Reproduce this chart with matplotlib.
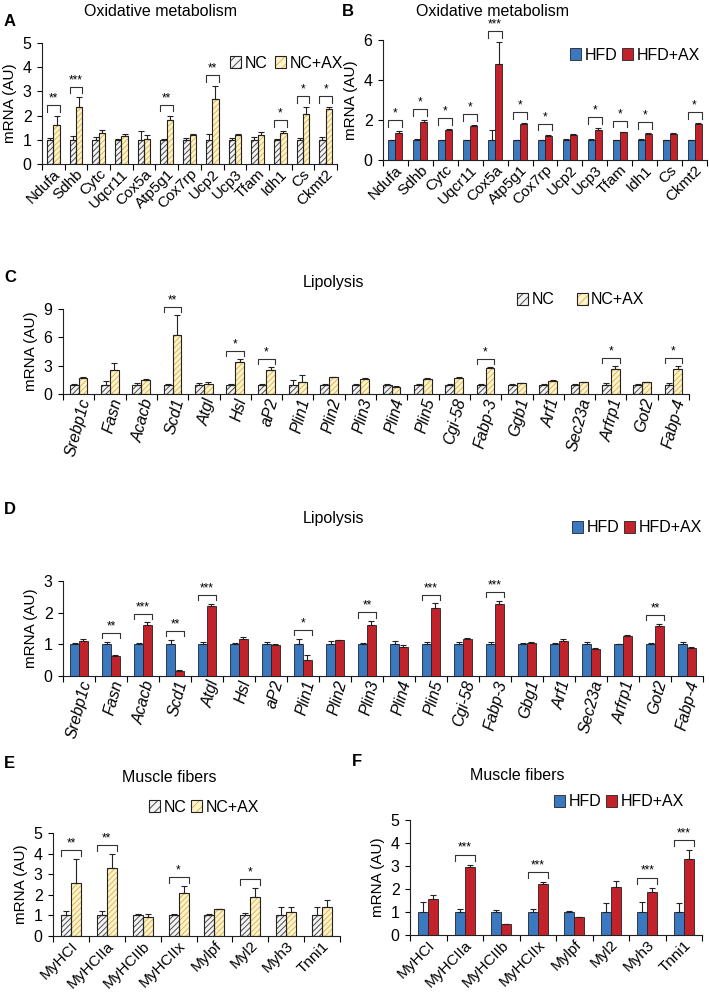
import numpy as np
import matplotlib
matplotlib.use('Agg')
import matplotlib.pyplot as plt
from matplotlib.patches import Patch
from matplotlib.legend_handler import HandlerTuple

plt.rcParams['font.family'] = ['Liberation Sans', 'DejaVu Sans']
plt.rcParams['hatch.linewidth'] = 0.7

# ---------------- data ----------------
ox_genes = ['Ndufa', 'Sdhb', 'Cytc', 'Uqcr11', 'Cox5a', 'Atp5g1', 'Cox7rp',
            'Ucp2', 'Ucp3', 'Tfam', 'Idh1', 'Cs', 'Ckmt2']
# panel A
a_nc = [1, 1, 1, 1, 1, 1, 1, 1, 1, 1, 1, 1, 1]
a_nc_err = [0.08, 0.15, 0.1, 0.05, 0.35, 0.05, 0.08, 0.25, 0.08, 0.1, 0.05, 0.08, 0.1]
a_ax = [1.62, 2.35, 1.3, 1.17, 1.02, 1.83, 1.18, 2.67, 1.18, 1.18, 1.3, 2.08, 2.28]
a_ax_err = [0.35, 0.4, 0.12, 0.08, 0.18, 0.17, 0.08, 0.55, 0.08, 0.13, 0.06, 0.28, 0.08]
a_sig = ['**', '***', '', '', '', '**', '', '**', '', '', '*', '*', '*']
# panel B
b_hfd = [1, 1, 1, 1, 1, 1, 1, 1, 1, 1, 1, 1, 1]
b_hfd_err = [0.02, 0.03, 0.02, 0.02, 0.5, 0.02, 0.02, 0.03, 0.03, 0.02, 0.04, 0.02, 0.02]
b_ax = [1.35, 1.9, 1.5, 1.7, 4.8, 1.78, 1.22, 1.25, 1.52, 1.38, 1.3, 1.32, 1.82]
b_ax_err = [0.1, 0.1, 0.06, 0.06, 1.1, 0.08, 0.05, 0.05, 0.08, 0.04, 0.04, 0.02, 0.03]
b_sig = ['*', '*', '*', '*', '***', '*', '*', '', '*', '*', '*', '', '*']

lip_genes_c = ['Srebp1c', 'Fasn', 'Acacb', 'Scd1', 'Atgl', 'Hsl', 'aP2', 'Plin1',
               'Plin2', 'Plin3', 'Plin4', 'Plin5', 'Cgi-58', 'Fabp-3', 'Ggb1',
               'Arf1', 'Sec23a', 'Arfrp1', 'Got2', 'Fabp-4']
lip_genes_d = ['Srebp1c', 'Fasn', 'Acacb', 'Scd1', 'Atgl', 'Hsl', 'aP2', 'Plin1',
               'Plin2', 'Plin3', 'Plin4', 'Plin5', 'Cgi-58', 'Fabp-3', 'Gbg1',
               'Arf1', 'Sec23a', 'Arfrp1', 'Got2', 'Fabp-4']
# panel C
c_nc = [1] * 20
c_nc_err = [0.05, 0.35, 0.2, 0.1, 0.15, 0.05, 0.08, 0.45, 0.05, 0.1,
            0.1, 0.05, 0.05, 0.1, 0.05, 0.05, 0.05, 0.2, 0.05, 0.2]
c_ax = [1.7, 2.55, 1.5, 6.3, 1.1, 3.35, 2.55, 1.3, 1.75, 1.6,
        0.75, 1.6, 1.7, 2.75, 1.15, 1.4, 1.25, 2.65, 1.25, 2.7]
c_ax_err = [0.1, 0.7, 0.1, 2.1, 0.15, 0.4, 0.35, 0.75, 0.05, 0.05,
            0.05, 0.05, 0.05, 0.15, 0.05, 0.05, 0.05, 0.35, 0.05, 0.3]
c_sig = ['', '', '', '**', '', '*', '*', '', '', '', '', '', '', '*', '', '', '', '*', '', '*']
# panel D
d_hfd = [1] * 20
d_hfd_err = [0.05, 0.08, 0.05, 0.15, 0.08, 0.05, 0.08, 0.18, 0.12, 0.04,
             0.1, 0.08, 0.08, 0.08, 0.04, 0.04, 0.08, 0.02, 0.03, 0.08]
d_ax = [1.12, 0.63, 1.62, 0.17, 2.2, 1.18, 0.97, 0.5, 1.13, 1.62,
        0.92, 2.14, 1.18, 2.26, 1.05, 1.12, 0.85, 1.25, 1.58, 0.88]
d_ax_err = [0.05, 0.03, 0.08, 0.02, 0.08, 0.06, 0.03, 0.15, 0.02, 0.12,
            0.05, 0.15, 0.03, 0.12, 0.03, 0.05, 0.04, 0.05, 0.07, 0.05]
d_sig = ['', '**', '***', '**', '***', '', '', '*', '', '**', '', '***', '', '***', '', '', '', '', '**', '']

mus_genes = ['MyHCI', 'MyHCIIa', 'MyHCIIb', 'MyHCIIx', 'Mylpf', 'Myl2', 'Myh3', 'Tnni1']
# panel E
e_nc = [1] * 8
e_nc_err = [0.22, 0.22, 0.05, 0.07, 0.07, 0.1, 0.42, 0.42]
e_ax = [2.57, 3.32, 0.93, 2.07, 1.3, 1.87, 1.15, 1.43]
e_ax_err = [1.15, 0.65, 0.15, 0.35, 0.03, 0.45, 0.25, 0.3]
e_sig = ['**', '**', '', '*', '', '*', '', '']
# panel F
f_hfd = [1] * 8
f_hfd_err = [0.42, 0.12, 0.08, 0.12, 0.06, 0.38, 0.45, 0.4]
f_ax = [1.55, 2.95, 0.47, 2.22, 0.77, 2.1, 1.85, 3.3]
f_ax_err = [0.2, 0.1, 0.03, 0.07, 0.03, 0.25, 0.2, 0.4]
f_sig = ['', '***', '', '***', '', '', '***', '***']

# ---------------- style ----------------
W, H = 709, 1000
NC_FILL, NC_HATCH = '#f4f4f4', '#4a4a4a'
AX_FILL, AX_HATCH = '#fdf4cf', '#e2b64c'
BLUE, RED = '#3a78c0', '#c4222b'
HATCH = '//////'

def box(l, t, r, b):
    return [l / W, 1 - b / H, (r - l) / W, (b - t) / H]

def fx(x):
    return x / W

def fy(y):
    return 1 - y / H

fig = plt.figure(figsize=(W / 100, H / 100), dpi=100)


def hatched_bar(ax, x, h, w, fill, hcol):
    ax.bar(x, h, w, color=fill, edgecolor=hcol, linewidth=0, hatch=HATCH, zorder=2)
    ax.bar(x, h, w, fill=False, edgecolor='#222222', linewidth=0.8, zorder=3)


def panel(ax, genes, v1, e1, v2, e2, sig, ymax, ystep, kind, rot, italic, xfs):
    n = len(genes)
    x = np.arange(n)
    w = 0.28
    if kind == 'nc':
        hatched_bar(ax, x - w / 2, v1, w, NC_FILL, NC_HATCH)
        hatched_bar(ax, x + w / 2, v2, w, AX_FILL, AX_HATCH)
    else:
        ax.bar(x - w / 2, v1, w, color=BLUE, edgecolor='#222222', linewidth=0.6, zorder=2)
        ax.bar(x + w / 2, v2, w, color=RED, edgecolor='#222222', linewidth=0.6, zorder=2)
    z = np.zeros(n)
    ax.errorbar(x - w / 2, v1, yerr=[z, e1], fmt='none', ecolor='#222222',
                elinewidth=0.8, capsize=2.2, capthick=0.8, zorder=4)
    ax.errorbar(x + w / 2, v2, yerr=[z, e2], fmt='none', ecolor='#222222',
                elinewidth=0.8, capsize=2.2, capthick=0.8, zorder=4)

    # significance brackets
    for i, s in enumerate(sig):
        if not s:
            continue
        top = max(v1[i] + e1[i], v2[i] + e2[i])
        y0 = top + 0.035 * ymax
        y1 = y0 + 0.055 * ymax
        ax.plot([i - w, i - w, i + w, i + w], [y0, y1, y1, y0], color='#333333',
                lw=0.8, clip_on=False, zorder=5)
        ax.text(i, y1 + 0.005 * ymax, s, ha='center', va='bottom', fontsize=8.5,
                clip_on=False)

    ax.set_xlim(-0.5, n - 0.5)
    ax.set_ylim(0, ymax)
    ax.set_yticks(np.arange(0, ymax + 0.01, ystep))
    ax.set_xticks(x)
    ax.set_xticks(np.arange(-0.5, n, 1.0), minor=True)
    ax.tick_params(axis='x', which='major', length=0, pad=2)
    ax.tick_params(axis='x', which='minor', length=4, width=0.8, direction='out')
    ax.tick_params(axis='y', length=3.5, width=0.8, labelsize=11.5, pad=4)
    ax.set_xticklabels(genes, rotation=rot, ha='right', rotation_mode='anchor',
                       fontsize=xfs, style='italic' if italic else 'normal')
    for sp in ['top', 'right']:
        ax.spines[sp].set_visible(False)
    for sp in ['left', 'bottom']:
        ax.spines[sp].set_linewidth(0.8)
        ax.spines[sp].set_color('#222222')
    ax.set_ylabel('mRNA (AU)', fontsize=11, labelpad=4)


def add_legend(ax, kind, l, y, labels, spacing):
    if kind == 'nc':
        h1 = (Patch(facecolor=NC_FILL, edgecolor=NC_HATCH, lw=0, hatch='////'),
              Patch(fill=False, edgecolor='#222222', lw=0.8))
        h2 = (Patch(facecolor=AX_FILL, edgecolor=AX_HATCH, lw=0, hatch='////'),
              Patch(fill=False, edgecolor='#222222', lw=0.8))
    else:
        h1 = Patch(facecolor=BLUE, edgecolor='#222222', lw=0.6)
        h2 = Patch(facecolor=RED, edgecolor='#222222', lw=0.6)
    ax.legend([h1, h2], labels, loc='center left',
              bbox_to_anchor=(fx(l), fy(y)), bbox_transform=fig.transFigure,
              ncol=2, frameon=False, fontsize=11.5, handlelength=0.7,
              handleheight=0.7, handletextpad=0.2, columnspacing=spacing,
              borderpad=0, borderaxespad=0,
              handler_map={tuple: HandlerTuple(ndivide=1, pad=0)})


def letter(x, y, s):
    fig.text(fx(x), fy(y), s, fontsize=12, fontweight='bold', ha='left', va='center')


def title(x, y, s):
    fig.text(fx(x), fy(y), s, fontsize=11.5, ha='center', va='center')


# A
axA = fig.add_axes(box(42, 43, 337, 164))
panel(axA, ox_genes, a_nc, a_nc_err, a_ax, a_ax_err, a_sig, 5, 1, 'nc', 45, False, 11)
add_legend(axA, 'nc', 230, 63, ['NC', 'NC+AX'], 0.5)
letter(4, 22, 'A')
title(160, 11, 'Oxidative metabolism')

# B
axB = fig.add_axes(box(383, 40, 707, 160))
panel(axB, ox_genes, b_hfd, b_hfd_err, b_ax, b_ax_err, b_sig, 6, 2, 'hfd', 45, False, 11)
add_legend(axB, 'hfd', 570, 55, ['HFD', 'HFD+AX'], 0.3)
letter(342, 12, 'B')
title(492, 12, 'Oxidative metabolism')

# C
axC = fig.add_axes(box(63, 309, 689, 394))
panel(axC, lip_genes_c, c_nc, c_nc_err, c_ax, c_ax_err, c_sig, 9, 3, 'nc', 75, True, 11.5)
add_legend(axC, 'nc', 517, 300, ['NC', 'NC+AX'], 1.4)
letter(4, 278, 'C')
title(333, 282, 'Lipolysis')

# D
axD = fig.add_axes(box(63, 581, 703, 676))
panel(axD, lip_genes_d, d_hfd, d_hfd_err, d_ax, d_ax_err, d_sig, 3, 1, 'hfd', 75, True, 11.5)
add_legend(axD, 'hfd', 572, 528, ['HFD', 'HFD+AX'], 0.3)
letter(4, 510, 'D')
title(333, 518, 'Lipolysis')

# E
axE = fig.add_axes(box(53, 833, 340, 936))
panel(axE, mus_genes, e_nc, e_nc_err, e_ax, e_ax_err, e_sig, 5, 1, 'nc', 45, False, 11)
add_legend(axE, 'nc', 149, 807, ['NC', 'NC+AX'], 0.3)
letter(4, 764, 'E')
title(169, 777, 'Muscle fibers')

# F
axF = fig.add_axes(box(410, 820, 702, 935))
panel(axF, mus_genes, f_hfd, f_hfd_err, f_ax, f_ax_err, f_sig, 5, 1, 'hfd', 45, False, 11)
add_legend(axF, 'hfd', 554, 802, ['HFD', 'HFD+AX'], 0.3)
letter(352, 761, 'F')
title(517, 776, 'Muscle fibers')

fig.savefig('out.png', dpi=100)
